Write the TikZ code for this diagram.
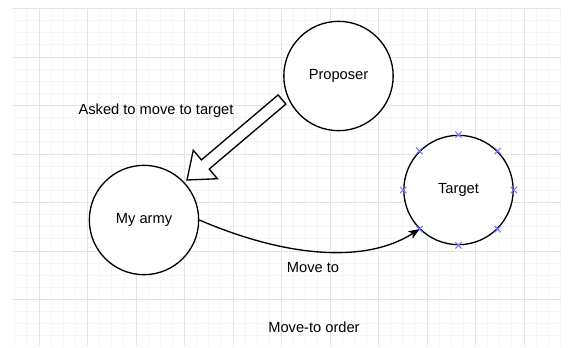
\documentclass[tikz,border=0pt]{standalone}
\usepackage{fontspec}
\setmainfont{Liberation Sans}
\usetikzlibrary{calc,arrows.meta,shapes.misc}
\definecolor{gridminor}{HTML}{F5F5F5}
\definecolor{gridmajor}{HTML}{E4E4E4}
\definecolor{markblue}{HTML}{7B7BFF}
\tikzset{
    state/.style={circle,draw,line width=1pt,fill=white,minimum size=82pt,inner sep=0pt},
    handle/.style={cross out,draw=markblue,line width=0.8pt,minimum size=4pt,inner sep=0pt},
    every node/.style={font=\fontsize{11}{13}\selectfont}
}
\begin{document}
\begin{tikzpicture}[x=0.75pt,y=-0.75pt]
    \useasboundingbox (0,0) rectangle (573,347);

    % background grid
    \foreach \i in {0,...,45}
        \draw[gridminor,line width=0.75pt] (14.75+12.125*\i,8.5) -- (14.75+12.125*\i,347);
    \foreach \j in {0,...,28}
        \draw[gridminor,line width=0.75pt] (12,8.5+12.125*\j) -- (561,8.5+12.125*\j);
    \foreach \i in {0,...,10}
        \draw[gridmajor,line width=0.75pt] (39+48.5*\i,8.5) -- (39+48.5*\i,347);
    \foreach \j in {0,...,6}
        \draw[gridmajor,line width=0.75pt] (12,8.5+48.5*\j) -- (561,8.5+48.5*\j);

    \node[state] (prop)   at (338.5,76) {Proposer};
    \node[state] (army)   at (144,220)  {My army};
    \node[state] (target) at (458.5,190) {Target};

    \foreach \a in {0,45,...,315}
        \node[handle] at (target.\a) {};

    % hollow arrow from proposer to army
    \coordinate (tail) at ($(prop.center)+(-56.5,23.5)$);
    \coordinate (tip)  at ($(army.center)+(43,-40)$);
    \coordinate (neck) at ($(tip)!18pt!(tail)$);
    \draw[line width=1pt,fill=white,line join=miter]
        ($(tail)!4.5pt!90:(tip)$) -- ($(neck)!4.5pt!90:(tip)$)
        -- ($(neck)!14pt!90:(tip)$) -- (tip)
        -- ($(neck)!14pt!-90:(tip)$) -- ($(neck)!4.5pt!-90:(tip)$)
        -- ($(tail)!4.5pt!-90:(tip)$) -- cycle;

    \node (asked) at (156,111) {Asked to move to target};

    % move to
    \draw[line width=1pt,-{Stealth[length=8pt,width=6.5pt,inset=2pt]}]
        (army.east) .. controls +(86,37) and +(-54,35) .. (target.225);
    \node (moveto) at (313,268) {Move to};

    \node (order) at (314,327) {Move-to order};
\end{tikzpicture}
\end{document}
